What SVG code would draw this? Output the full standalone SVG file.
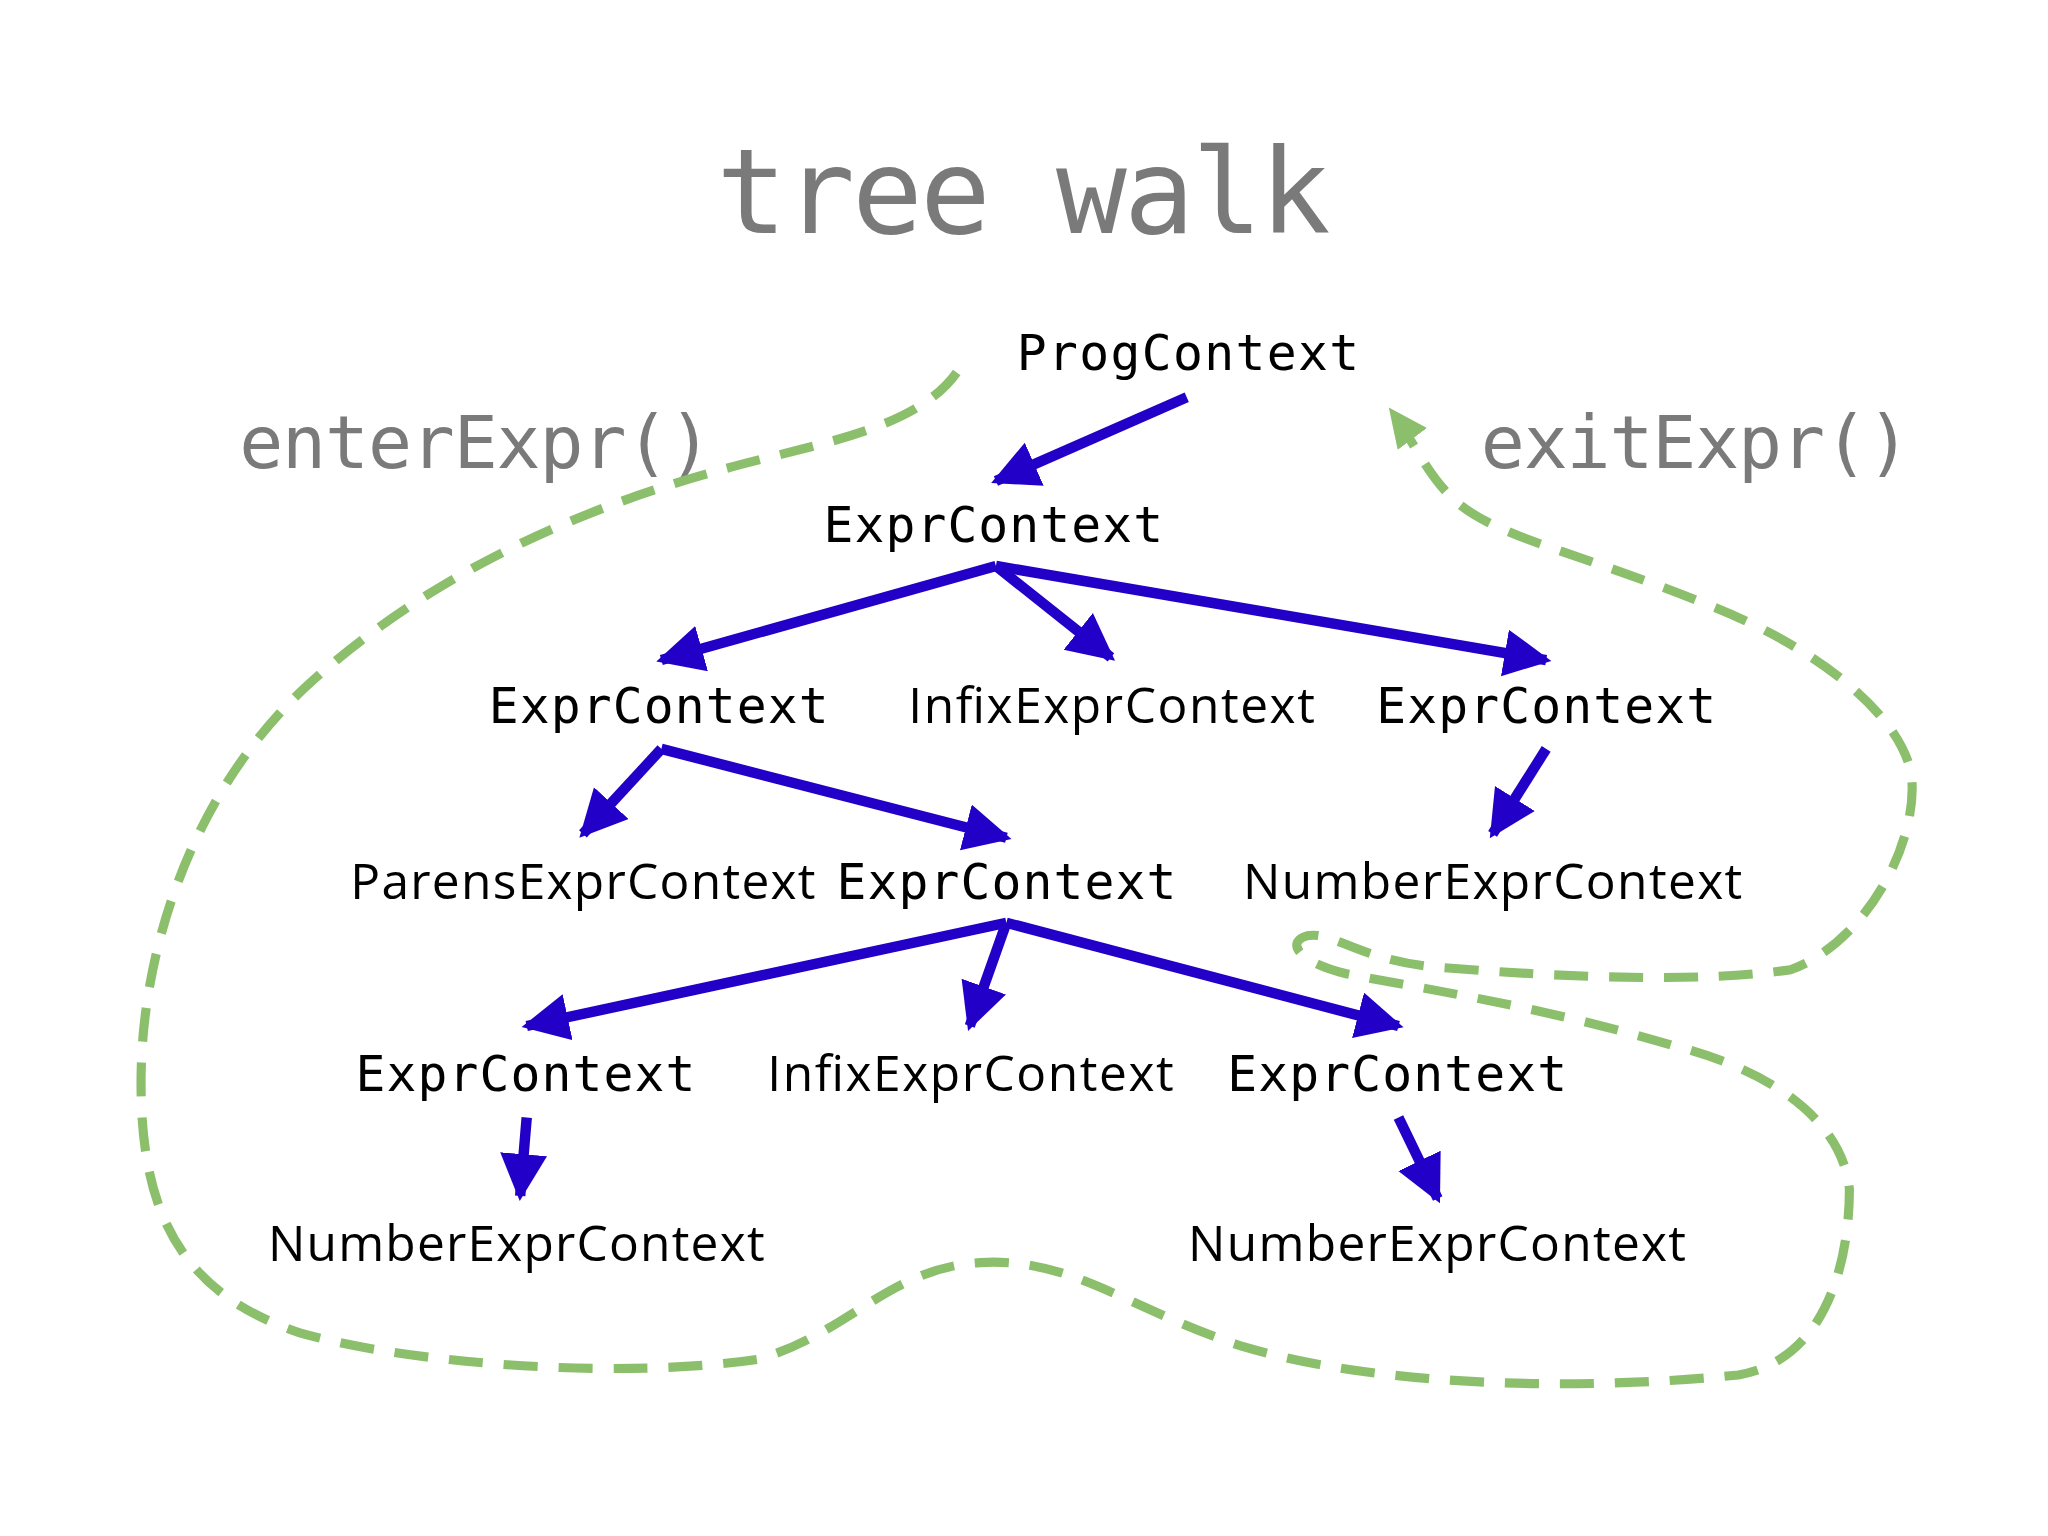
<svg xmlns="http://www.w3.org/2000/svg" width="2048" height="1536" viewBox="0 0 2048 1536">
<defs>
<style>
.t{font-family:"DejaVu Sans Mono","Liberation Mono",monospace;fill:#7a7a7a}
.m{font-family:"DejaVu Sans Mono","Liberation Mono",monospace;font-size:38px;fill:#000}
.p{font-family:"Open Sans","Noto Sans",sans-serif;font-size:38px;fill:#000}
.a{stroke:#2200c8;stroke-width:8;fill:none;marker-end:url(#ah)}
.g{stroke:#8cbf6c;stroke-width:7;fill:none;stroke-dasharray:26 16;stroke-linejoin:round}
</style>
<marker id="ah" markerUnits="userSpaceOnUse" markerWidth="44" markerHeight="44" refX="32" refY="18" orient="auto"><path d="M0,0 L36,18 L0,36 Z" fill="#2200c8"/></marker>
<marker id="gh" markerUnits="userSpaceOnUse" markerWidth="40" markerHeight="40" refX="26" refY="14" orient="auto"><path d="M0,0 L30,14 L0,28 Z" fill="#8cbf6c"/></marker>
</defs>
<rect width="2048" height="1536" fill="#fff"/>
<g transform="scale(1.307)">
<g id="labels">
<text class="t" x="783" y="178" font-size="90" text-anchor="middle" textLength="470">tree walk</text>
<text class="t" x="183" y="358" font-size="56" textLength="362">enterExpr()</text>
<text class="t" x="1133" y="358" font-size="56" textLength="329">exitExpr()</text>
</g>
<g id="connectors">
<path class="g" marker-end="url(#gh)" d="M732,285 C700,330 620,340 550,360 C440,390 330,440 240,520 C150,600 110,720 108,820 C106,930 140,990 230,1020 C320,1045 480,1055 580,1040 C650,1020 680,970 750,966 C820,962 860,1000 950,1030 C1050,1060 1200,1065 1330,1052 C1400,1040 1415,960 1415,910 C1410,860 1360,820 1280,800 C1180,770 1080,755 1030,745 C990,735 985,720 1000,716 C1020,712 1040,735 1100,740 C1200,748 1300,752 1370,742 C1430,720 1470,640 1462,590 C1450,540 1380,490 1300,460 C1200,420 1140,410 1110,380 C1090,360 1080,335 1065,315"/>
<line class="a" x1="908" y1="304" x2="762" y2="368"/>
<line class="a" x1="762" y1="433" x2="506" y2="505"/>
<line class="a" x1="762" y1="433" x2="850" y2="503"/>
<line class="a" x1="762" y1="433" x2="1183" y2="505"/>
<line class="a" x1="1183" y1="573" x2="1142" y2="638"/>
<line class="a" x1="506" y1="573" x2="446" y2="638"/>
<line class="a" x1="506" y1="573" x2="770" y2="641"/>
<line class="a" x1="770" y1="706" x2="403" y2="785"/>
<line class="a" x1="770" y1="706" x2="742" y2="785"/>
<line class="a" x1="770" y1="706" x2="1070" y2="785"/>
<line class="a" x1="403" y1="855" x2="398" y2="915"/>
<line class="a" x1="1070" y1="855" x2="1100" y2="917"/>
</g>
<g id="n1"><text class="m" x="778" y="283" textLength="262">ProgContext</text></g>
<g id="n2"><text class="m" x="630" y="415" textLength="260">ExprContext</text></g>
<g id="n3"><text class="m" x="374" y="553" textLength="260">ExprContext</text></g>
<g id="n4"><text class="p" x="695" y="553" textLength="311">InfixExprContext</text></g>
<g id="n5"><text class="m" x="1053" y="553" textLength="260">ExprContext</text></g>
<g id="n6"><text class="p" x="268" y="688" textLength="356">ParensExprContext</text></g>
<g id="n7"><text class="m" x="640" y="688" textLength="260">ExprContext</text></g>
<g id="n8"><text class="p" x="951" y="688" textLength="382">NumberExprContext</text></g>
<g id="n9"><text class="m" x="272" y="835" textLength="260">ExprContext</text></g>
<g id="n10"><text class="p" x="587" y="835" textLength="311">InfixExprContext</text></g>
<g id="n11"><text class="m" x="939" y="835" textLength="260">ExprContext</text></g>
<g id="n12"><text class="p" x="205" y="965" textLength="380">NumberExprContext</text></g>
<g id="n13"><text class="p" x="909" y="965" textLength="381">NumberExprContext</text></g>
</g>
</svg>
